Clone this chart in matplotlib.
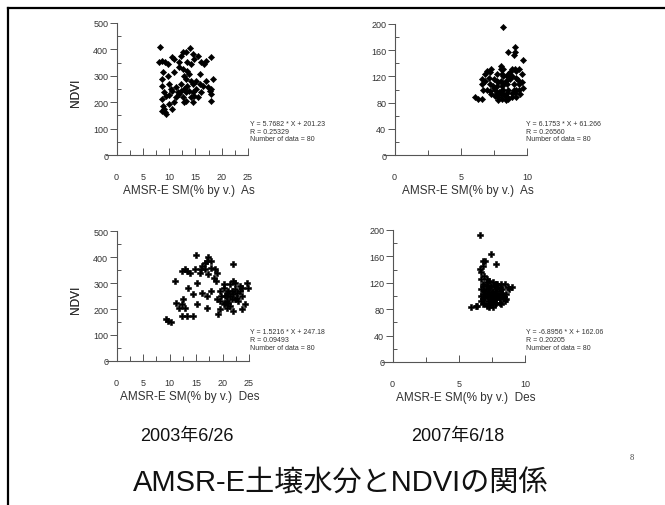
import matplotlib
matplotlib.use("Agg")
import matplotlib.pyplot as plt
from matplotlib.lines import Line2D
from matplotlib.ticker import MultipleLocator

plt.rcParams['font.family'] = ['Liberation Sans', 'Noto Sans CJK JP', 'DejaVu Sans']

W, H = 665, 506

# ---------------- data ----------------
p1_x = [8.2, 8.1, 8.7, 9.2, 9.7, 8.9, 8.6, 8.7, 9.1, 8.7, 9.4, 10.0, 8.9, 9.1, 9.2, 8.7, 9.4, 10.0,
        10.6, 11.0, 11.3, 10.6, 11.6, 11.0, 10.5, 11.9, 12.2, 11.9, 12.6, 12.9, 13.2, 12.7, 13.2, 14.0,
        14.5, 14.8, 14.2, 13.4, 13.8, 14.2, 14.5, 13.4, 12.9, 12.2, 11.9, 12.6, 13.2, 13.8, 14.5, 15.1,
        14.8, 14.2, 13.2, 12.9, 15.1, 15.8, 15.4, 16.1, 16.7, 17.0, 18.0, 15.8, 16.4, 17.0, 17.3, 17.7,
        18.0, 18.0, 18.3, 16.1, 15.4, 14.5, 10.0, 9.7, 11.3, 11.0, 12.2, 13.4, 10.4, 18.0]
p1_y = [410, 351, 357, 351, 344, 313, 287, 262, 237, 214, 222, 227, 186, 173, 161, 167, 154, 192,
        173, 199, 218, 243, 237, 363, 370, 351, 376, 332, 325, 300, 287, 389, 389, 404,
        382, 363, 344, 319, 306, 281, 268, 262, 249, 243, 230, 218, 237, 243, 237, 249,
        224, 218, 205, 199, 281, 306, 376, 351, 344, 357, 370, 268, 262, 281, 256, 243,
        230, 205, 287, 237, 218, 199, 268, 300, 256, 313, 268, 351, 249, 249]

p2_x = [8.2, 9.1, 8.6, 9.1, 9.0, 9.7, 8.0, 7.3, 7.0, 6.8, 6.6, 6.6, 6.7, 6.1, 6.3, 6.6, 7.5, 7.7,
        8.0, 8.2, 8.0, 7.7, 7.5, 7.2, 7.2, 7.7, 8.0, 7.8, 7.8, 8.1, 8.4, 8.2, 8.5, 8.7, 8.4, 8.6,
        8.9, 8.9, 9.1, 9.4, 9.5, 9.2, 9.0, 9.2, 9.6, 9.2, 8.9, 8.6, 9.6, 9.7, 7.6, 7.3, 7.1, 8.2,
        8.1, 8.5, 8.5, 8.0, 9.1, 9.4, 7.0, 6.8, 7.7, 8.5, 8.9, 8.1, 9.0, 9.4, 8.4, 7.6, 8.6, 9.2,
        7.2, 7.8, 8.2, 7.9, 8.3, 9.3, 7.4, 8.7]
p2_y = [195, 165, 157, 157, 152, 145, 136, 131, 129, 123, 116, 108, 100, 88, 86, 86, 116, 123,
        131, 121, 113, 106, 103, 98, 108, 95, 93, 88, 84, 85, 90, 100, 108, 116, 113, 100,
        95, 88, 95, 100, 93, 88, 108, 118, 123, 129, 131, 123, 111, 103, 90, 93, 118, 131,
        106, 95, 88, 98, 131, 131, 100, 113, 113, 121, 121, 123, 100, 108, 84, 100, 86, 100,
        126, 111, 108, 96, 92, 114, 105, 126]

p3_x = [15.0, 17.3, 17.9, 16.7, 16.2, 15.9, 16.7, 17.9, 18.6, 18.9, 18.3, 18.8, 17.3, 15.7, 14.8, 12.9,
        13.2, 13.9, 12.3, 11.0, 13.5, 14.5, 16.1, 17.0, 17.9, 15.1, 17.0, 12.6, 12.3, 12.9, 11.7, 12.3,
        13.2, 14.5, 9.4, 9.7, 10.2, 19.2, 19.5, 20.2, 20.5, 19.5, 20.8, 22.0, 22.0, 20.2, 20.8, 21.4,
        21.7, 22.4, 22.7, 23.3, 23.6, 24.6, 24.9, 24.2, 23.6, 22.0, 21.4, 20.8, 21.7, 22.4, 23.0, 21.1,
        20.5, 19.8, 22.0, 22.7, 23.6, 23.3, 21.4, 20.2, 21.1, 22.4, 19.5, 20.8, 18.9, 11.3, 17.1, 15.1]
p3_y = [406, 401, 385, 378, 365, 353, 355, 359, 353, 340, 321, 308, 333, 340, 353, 353,
        346, 340, 346, 308, 282, 256, 263, 250, 269, 218, 205, 237, 218, 205, 205, 173,
        173, 173, 160, 154, 150, 179, 199, 218, 224, 231, 250, 308, 372, 295, 231, 250,
        269, 276, 263, 269, 282, 301, 282, 218, 199, 192, 212, 205, 237, 237, 231, 269,
        250, 250, 256, 244, 250, 288, 295, 282, 224, 301, 269, 263, 237, 224, 385, 301]

p4_x = [6.6, 7.4, 6.8, 7.0, 7.8, 6.7, 6.9, 6.7, 6.8, 7.1, 7.3, 7.6, 7.8, 8.1, 8.3, 8.7, 8.8, 8.5,
        6.7, 6.8, 7.1, 7.3, 7.6, 7.8, 8.2, 8.1, 8.5, 7.7, 7.4, 7.2, 6.9, 6.7, 6.4, 5.9, 6.3, 7.3,
        7.6, 7.8, 7.7, 7.9, 8.3, 8.6, 7.9, 7.4, 7.2, 6.9, 6.8, 7.1, 7.3, 7.7, 8.1, 8.3, 7.6, 7.1,
        6.6, 6.8, 7.8, 8.2, 7.4, 7.2, 6.9, 7.8, 8.6, 8.1, 7.7, 7.3, 6.7, 7.1, 7.4, 6.8, 7.2, 7.9,
        9.0, 8.2, 7.6, 6.8, 8.0, 7.0, 8.4, 7.5]
p4_y = [192, 164, 153, 153, 148, 136, 131, 126, 118, 115, 123, 121, 118, 113, 110, 113, 110, 118,
        110, 103, 100, 105, 108, 105, 103, 95, 93, 98, 95, 93, 90, 93, 85, 84, 85, 88,
        84, 90, 103, 100, 100, 103, 110, 115, 110, 108, 95, 85, 83, 88, 90, 105, 93, 126,
        141, 146, 113, 118, 100, 103, 98, 95, 95, 108, 115, 113, 100, 121, 90, 88, 98, 118,
        113, 88, 103, 115, 100, 108, 98, 106]

eq_texts = [
    "Y = 5.7682 * X + 201.23\nR = 0.25329\nNumber of data = 80",
    "Y = 6.1753 * X + 61.266\nR = 0.26560\nNumber of data = 80",
    "Y = 1.5216 * X + 247.18\nR = 0.09493\nNumber of data = 80",
    "Y = -6.8956 * X + 162.06\nR = 0.20205\nNumber of data = 80",
]
xlabels = ["AMSR-E SM(% by v.)  As", "AMSR-E SM(% by v.)  As",
           "AMSR-E SM(% by v.)  Des", "AMSR-E SM(% by v.)  Des"]
ylabel = "NDVI"
dates = ["2003年6/26", "2007年6/18"]
title = "AMSR-E土壌水分とNDVIの関係"
page_no = "8"

# ---------------- layout helpers ----------------
fig = plt.figure(figsize=(W / 100, H / 100), dpi=100)
fig.patch.set_facecolor('white')


def add_ax(x_left, x_right, y_top, y_bottom):
    return fig.add_axes([x_left / W, 1 - y_bottom / H, (x_right - x_left) / W, (y_bottom - y_top) / H])


panels = [
    dict(box=(106, 248, 24, 156), xlim=(-2, 25), ylim=(0, 500), ystep=100, x=p1_x, y=p1_y,
         eq=(250, 121), marker='D', s=10),
    dict(box=(384, 527, 25, 156), xlim=(-0.8, 10), ylim=(0, 200), ystep=40, x=p2_x, y=p2_y,
         eq=(526, 121), marker='D', s=10),
    dict(box=(106, 249, 232, 362), xlim=(-2, 25), ylim=(0, 500), ystep=100, x=p3_x, y=p3_y,
         eq=(250, 329), marker='P', s=20),
    dict(box=(382, 525, 231, 363), xlim=(-0.8, 10), ylim=(0, 200), ystep=40, x=p4_x, y=p4_y,
         eq=(526, 329), marker='P', s=20),
]

axis_col = '#555555'
text_col = '#333333'

for i, p in enumerate(panels):
    ax = add_ax(*p['box'])
    ax.set_facecolor('none')
    ax.scatter(p['x'], p['y'], marker=p['marker'], s=p['s'],
               color='black', edgecolors='black', linewidths=0.4, zorder=3, clip_on=False)
    ax.set_xlim(*p['xlim'])
    ax.set_ylim(*p['ylim'])
    for s in ['top', 'right']:
        ax.spines[s].set_visible(False)
    ax.spines['left'].set_position(('data', 0))
    ax.spines['left'].set_color(axis_col)
    ax.spines['bottom'].set_color(axis_col)
    ax.spines['left'].set_linewidth(0.8)
    ax.spines['bottom'].set_linewidth(0.8)
    xmax = p['xlim'][1]
    xstep = 5
    ax.xaxis.set_minor_locator(MultipleLocator(xstep / 2))
    ax.set_xticks([t for t in range(0, int(xmax) + 1, xstep)])
    ax.yaxis.set_major_locator(MultipleLocator(p['ystep']))
    ax.yaxis.set_minor_locator(MultipleLocator(p['ystep'] / 2))
    ax.tick_params(axis='x', which='major', direction='in', length=5, width=0.7, color=axis_col,
                   pad=12, labelsize=6.5, labelcolor=text_col)
    ax.tick_params(axis='x', which='minor', direction='in', length=3.5, width=0.7, color=axis_col)
    ax.tick_params(axis='y', which='major', direction='out', length=5, width=0.7, color=axis_col,
                   pad=1, labelsize=6.5, labelcolor=text_col)
    ax.tick_params(axis='y', which='minor', direction='in', length=3, width=0.7, color=axis_col)
    ax.set_xlabel(xlabels[i], fontsize=8.5, color=text_col)
    ax.xaxis.set_label_coords((0 - p['xlim'][0] + xmax / 2) / (xmax - p['xlim'][0]) + 0.05, -0.22)
    ax.set_ylabel(ylabel, fontsize=8.5, color=text_col)
    ax.yaxis.set_label_coords((82 - p['box'][0]) / (p['box'][1] - p['box'][0]), 0.48)
    fig.text(p['eq'][0] / W, 1 - p['eq'][1] / H, eq_texts[i], fontsize=5, color=text_col,
             ha='left', va='top', linespacing=1.15)

# date labels
fig.text(187 / W, 1 - 437 / H, dates[0], fontsize=13, ha='center', va='center', color='#111111')
fig.text(458 / W, 1 - 437 / H, dates[1], fontsize=13, ha='center', va='center', color='#111111')

# title
fig.text(341 / W, 1 - 483 / H, title, fontsize=21, ha='center', va='center', color='#111111',
         family=['Liberation Sans', 'Noto Sans CJK JP'])
fig.text(632 / W, 1 - 458 / H, page_no, fontsize=6, ha='center', va='center', color='#444444',
         family=['Liberation Serif'])

# slide border
fig.add_artist(Line2D([8 / W, 8 / W], [0, 1 - 9 / H], transform=fig.transFigure, color='black', lw=1.6))
fig.add_artist(Line2D([8 / W, 1], [1 - 9 / H, 1 - 9 / H], transform=fig.transFigure, color='black', lw=1.6))

fig.savefig('out.png', dpi=100, facecolor='white')
